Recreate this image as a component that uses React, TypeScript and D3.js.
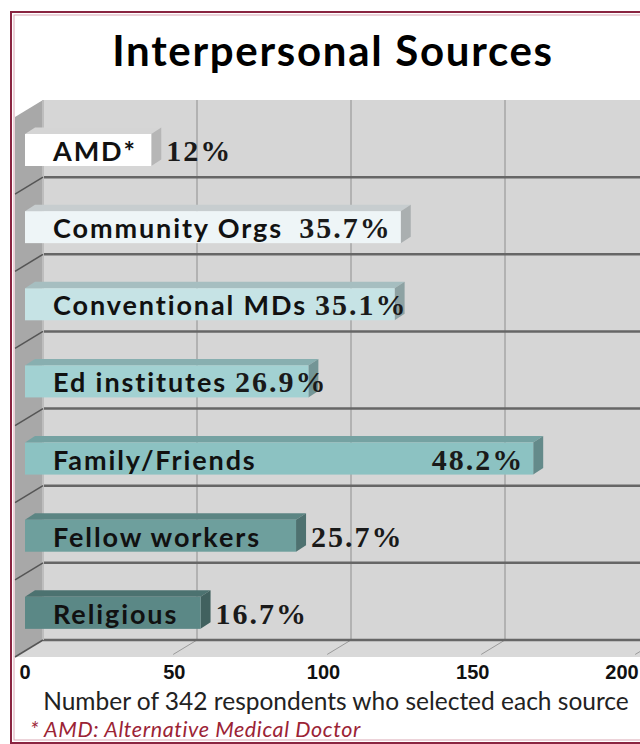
import React, { useEffect, useRef } from "react";
import * as d3 from "d3";

const chartTitle = "Interpersonal Sources";
const categories = [
  "AMD*",
  "Community Orgs",
  "Conventional MDs",
  "Ed institutes",
  "Family/Friends",
  "Fellow workers",
  "Religious",
];
const respondents = [41, 122, 120, 92, 165, 88, 57];
const percentLabels = ["12%", "35.7%", "35.1%", "26.9%", "48.2%", "25.7%", "16.7%"];
const xTicks = [0, 50, 100, 150, 200];
const axisTitle = "Number of 342 respondents who selected each source";
const footnote = "* AMD: Alternative Medical Doctor";

const barColors = ["#ffffff", "#eef5f7", "#c6e3e5", "#a2d1d2", "#8cc2c2", "#6e9f9d", "#5b8886"];

export default function App() {
  const ref = useRef<SVGSVGElement | null>(null);

  useEffect(() => {
    const svg = d3.select(ref.current);
    svg.selectAll("*").remove();

    const W = 640;
    const H = 744;
    const DX = 28; // depth offset
    const DY = -17;
    const wallLeft = 43;
    const wallTop = 100;
    const wallBottom = 640;

    const xBack = d3.scaleLinear().domain([0, 200]).range([wallLeft, wallLeft + 616]);
    const xBar = d3.scaleLinear().domain([0, 200]).range([25, 641]);
    const xLabel = d3.scaleLinear().domain([0, 200]).range([25, 622]);
    const yBand = d3.scaleBand<string>().domain(categories).range([wallTop, wallBottom]);

    svg.append("rect").attr("width", W).attr("height", H).attr("fill", "#ffffff");

    // back wall
    svg.append("rect")
      .attr("x", wallLeft).attr("y", wallTop)
      .attr("width", W - wallLeft + 20).attr("height", wallBottom - wallTop)
      .attr("fill", "#d6d6d6");

    // vertical gridlines on back wall
    svg.append("g").selectAll("line").data(xTicks.slice(1)).join("line")
      .attr("x1", (d) => xBack(d)).attr("x2", (d) => xBack(d))
      .attr("y1", wallTop).attr("y2", wallBottom)
      .attr("stroke", "#8e8e8e").attr("stroke-width", 1);

    // floor
    svg.append("path")
      .attr("d", d3.line()([
        [wallLeft, wallBottom], [W + 40, wallBottom], [W + 40 - DX, wallBottom - DY], [wallLeft - DX, wallBottom - DY],
      ]) + "Z")
      .attr("fill", "#d9d9d9");
    svg.append("g").selectAll("line").data(xTicks.slice(1)).join("line")
      .attr("x1", (d) => xBack(d)).attr("x2", (d) => xBack(d) - DX * 0.85)
      .attr("y1", wallBottom).attr("y2", wallBottom - DY * 0.85)
      .attr("stroke", "#9a9a9a").attr("stroke-width", 1);

    // horizontal lines at band bottoms
    svg.append("g").selectAll("line").data(categories).join("line")
      .attr("x1", wallLeft).attr("x2", W + 20)
      .attr("y1", (d) => (yBand(d) as number) + yBand.bandwidth())
      .attr("y2", (d) => (yBand(d) as number) + yBand.bandwidth())
      .attr("stroke", "#666666").attr("stroke-width", 2.5);

    // left wall
    svg.append("path")
      .attr("d", d3.line()([
        [wallLeft, wallTop], [wallLeft, wallBottom], [wallLeft - DX, wallBottom - DY], [wallLeft - DX, wallTop - DY],
      ]) + "Z")
      .attr("fill", "#a8a8a8");
    svg.append("line")
      .attr("x1", wallLeft).attr("x2", wallLeft)
      .attr("y1", wallTop).attr("y2", wallBottom)
      .attr("stroke", "#bdbdbd").attr("stroke-width", 2);
    svg.append("g").selectAll("line").data(categories).join("line")
      .attr("x1", wallLeft)
      .attr("x2", wallLeft - DX)
      .attr("y1", (d) => (yBand(d) as number) + yBand.bandwidth())
      .attr("y2", (d) => (yBand(d) as number) + yBand.bandwidth() - DY)
      .attr("stroke", "#555555").attr("stroke-width", 1.5);

    // bars
    const bdx = 10;
    const bdy = -6.5;
    const bh = 32;
    const nameX = 53;
    const bars = svg.append("g");
    categories.forEach((c, i) => {
      const v = respondents[i];
      const x0 = xBar(0);
      const x1 = xBar(v);
      const y0 = (yBand(c) as number) + 34;
      const front = d3.color(barColors[i])!;
      const top = d3.color(barColors[i])!.darker(0.5);
      const side = d3.color(barColors[i])!.darker(0.95);
      const g = bars.append("g");
      g.append("path")
        .attr("d", d3.line()([[x0, y0], [x1, y0], [x1 + bdx, y0 + bdy], [x0 + bdx, y0 + bdy]]) + "Z")
        .attr("fill", top.formatHex());
      g.append("path")
        .attr("d", d3.line()([[x1, y0], [x1 + bdx, y0 + bdy], [x1 + bdx, y0 + bdy + bh], [x1, y0 + bh]]) + "Z")
        .attr("fill", side.formatHex());
      g.append("rect")
        .attr("x", x0).attr("y", y0).attr("width", x1 - x0).attr("height", bh)
        .attr("fill", front.formatHex());

      const name = g.append("text")
        .attr("x", nameX).attr("y", y0 + 27)
        .attr("font-family", "Lato, 'Open Sans', sans-serif")
        .attr("font-weight", 700)
        .attr("font-size", 27)
        .attr("letter-spacing", 1.9)
        .attr("fill", "#111111")
        .text(c);
      const pct = g.append("text")
        .attr("y", y0 + 27)
        .attr("font-family", "'Liberation Serif', 'DejaVu Serif', serif")
        .attr("font-weight", 700)
        .attr("font-size", 30)
        .attr("letter-spacing", 2)
        .attr("fill", "#1a1a1a")
        .text(percentLabels[i]);
      const nameEnd = nameX + (name.node() as SVGTextElement).getComputedTextLength();
      const pw = (pct.node() as SVGTextElement).getComputedTextLength();
      let px: number;
      if (nameEnd + 10 + pw <= x1 + bdx + 18) {
        px = Math.max(nameEnd + 8, x1 - 9 - pw);
      } else {
        px = x1 + bdx + 5;
      }
      pct.attr("x", px);
    });

    // tick labels
    svg.append("g").selectAll("text").data(xTicks).join("text")
      .attr("x", (d) => xLabel(d)).attr("y", 679)
      .attr("text-anchor", "middle")
      .attr("font-family", "'Liberation Sans', Arial, sans-serif")
      .attr("font-weight", 700)
      .attr("font-size", 20)
      .attr("fill", "#111111")
      .text((d) => String(d));

    svg.append("text")
      .attr("x", 336).attr("y", 710)
      .attr("text-anchor", "middle")
      .attr("font-family", "Lato, 'Open Sans', sans-serif")
      .attr("font-size", 24.5)
      .attr("fill", "#222222")
      .text(axisTitle);

    svg.append("text")
      .attr("x", 30).attr("y", 737)
      .attr("font-family", "Lato, 'Open Sans', sans-serif")
      .attr("font-style", "italic")
      .attr("font-size", 21.5)
      .attr("letter-spacing", 0.6)
      .attr("fill", "#9b2335")
      .text(footnote);

    svg.append("text")
      .attr("x", 333).attr("y", 66)
      .attr("text-anchor", "middle")
      .attr("font-family", "Lato, 'Open Sans', sans-serif")
      .attr("font-weight", 700)
      .attr("font-size", 42)
      .attr("letter-spacing", 1.7)
      .attr("fill", "#000000")
      .text(chartTitle);

    // frame
    svg.append("rect")
      .attr("x", 11).attr("y", 12).attr("width", W + 20).attr("height", 731)
      .attr("fill", "none").attr("stroke", "#8a2441").attr("stroke-width", 2);
    svg.append("rect")
      .attr("x", 14).attr("y", 15).attr("width", W + 20).attr("height", 725)
      .attr("fill", "none").attr("stroke", "#d9a6b3").attr("stroke-width", 1);
  }, []);

  return (
    <svg
      ref={ref}
      width={640}
      height={744}
      style={{ position: "absolute", left: 0, top: 0, display: "block" }}
    />
  );
}
